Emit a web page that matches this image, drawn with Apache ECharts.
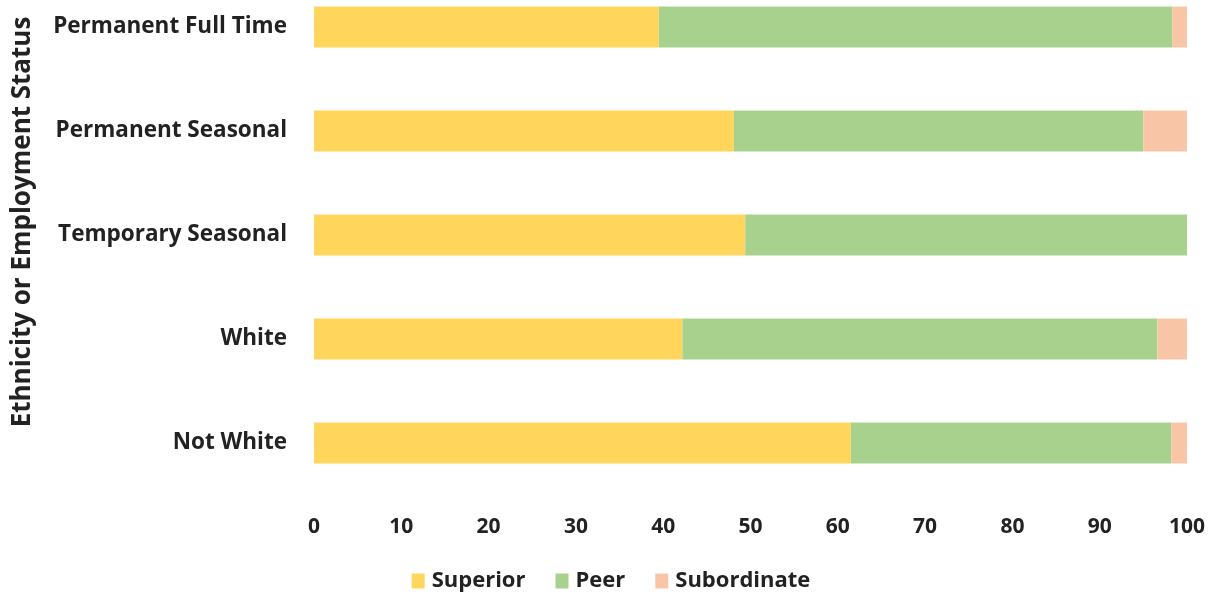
<!DOCTYPE html>
<html>
<head>
<meta charset="utf-8">
<script src="https://cdn.jsdelivr.net/npm/echarts@6/dist/echarts.min.js"></script>
<style>
  html, body { margin: 0; padding: 0; background: #ffffff; overflow: hidden; }
  /* The plot band extends a little above the visible page top */
  #chart { width: 1222px; height: 623px; margin-top: -25px; }
</style>
</head>
<body>
<div id="chart"></div>
<script>
// Groups, listed bottom to top as drawn on the category axis
const categories = ['Not White', 'White', 'Temporary Seasonal', 'Permanent Seasonal', 'Permanent Full Time'];
// Share of each relationship type (%) per group
const superior    = [61.5, 42.2, 49.4, 48.1, 39.5];
const peer        = [36.7, 54.4, 50.6, 46.9, 58.8];
const subordinate = [1.8, 3.4, 0, 5.0, 1.7];
const xTicks = [0, 10, 20, 30, 40, 50, 60, 70, 80, 90, 100];

const fontFamily = '"Open Sans", Lato, "Liberation Sans", sans-serif';
const chart = echarts.init(document.getElementById('chart'));

function barSeries(name, data, color) {
  return {
    name: name,
    type: 'bar',
    stack: 'total',
    data: data,
    barWidth: 41,
    itemStyle: { color: color },
    emphasis: { disabled: true }
  };
}

chart.setOption({
  animation: false,
  textStyle: { fontFamily: fontFamily },
  grid: { left: 314, right: 35, top: 0, bottom: 103 },
  legend: {
    bottom: 1,
    left: 'center',
    itemWidth: 13,
    itemHeight: 15,
    itemGap: 30,
    icon: 'rect',
    textStyle: { fontSize: 22, fontWeight: 'bold', color: '#222', fontFamily: fontFamily, padding: [0, 0, 0, 2] },
    data: ['Superior', 'Peer', 'Subordinate']
  },
  xAxis: {
    type: 'value',
    min: xTicks[0],
    max: xTicks[xTicks.length - 1],
    interval: 10,
    axisLine: { show: false },
    axisTick: { show: false },
    splitLine: { show: false },
    axisLabel: {
      margin: 22,
      fontSize: 21,
      fontWeight: 'bold',
      color: '#222',
      fontFamily: fontFamily
    }
  },
  yAxis: {
    type: 'category',
    data: categories,
    name: 'Ethnicity or Employment Status',
    nameLocation: 'middle',
    nameGap: 278,
    nameTextStyle: {
      fontSize: 26, fontWeight: 'bold', color: '#222', fontFamily: fontFamily,
      padding: [0, 0, 0, 26]
    },
    axisLine: { show: false },
    axisTick: { show: false },
    axisLabel: {
      margin: 27,
      fontSize: 22.5,
      fontWeight: 'bold',
      color: '#222',
      fontFamily: fontFamily
    }
  },
  series: [
    barSeries('Superior', superior, '#FFD65B'),
    barSeries('Peer', peer, '#A9D18E'),
    barSeries('Subordinate', subordinate, '#F8C6A6')
  ]
});
</script>
</body>
</html>
